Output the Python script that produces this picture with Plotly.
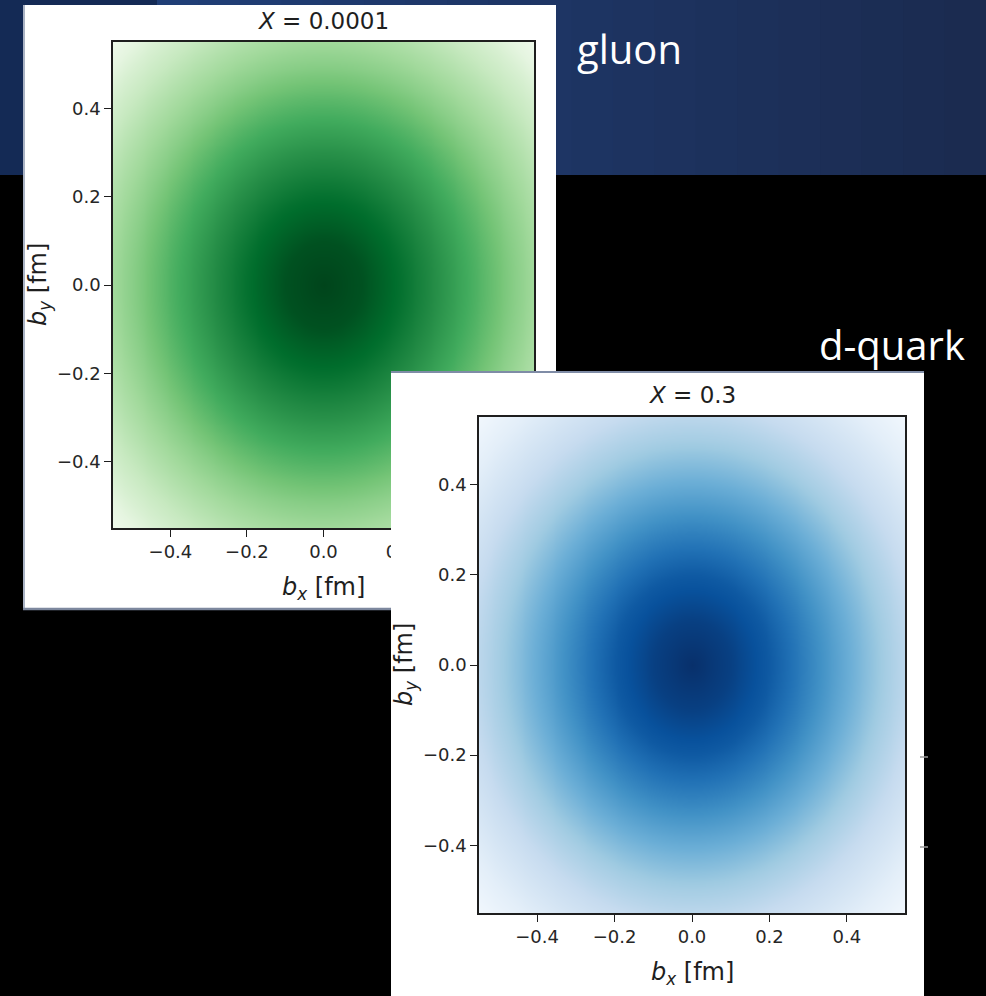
import numpy as np
import plotly.graph_objects as go

W, H = 986, 996

# ---- data -----------------------------------------------------------------
# normalised colour level of each map versus transverse distance |b| (fm)
radius_fm = [0.0, 0.1, 0.2, 0.3, 0.4, 0.5, 0.6, 0.7, 0.78]
gluon_level = [1.0, 0.96, 0.86, 0.73, 0.59, 0.44, 0.31, 0.18, 0.06]
dquark_level = [1.0, 0.94, 0.84, 0.68, 0.51, 0.35, 0.22, 0.10, 0.03]

b_fm = np.linspace(-0.55, 0.55, 111)          # sampling grid of the maps
tick_vals = [-0.4, -0.2, 0.0, 0.2, 0.4]
tick_text = ["\u22120.4", "\u22120.2", "0.0", "0.2", "0.4"]
panel_titles = ["<i>X</i> = 0.0001", "<i>X</i> = 0.3"]
panel_names = ["gluon", "d-quark"]
x_label = "<i>b</i><sub><i>x</i></sub> [fm]"
y_label = "<i>b</i><sub><i>y</i></sub> [fm]"

greens = [[0.0, "#f7fcf5"], [0.125, "#e5f5e0"], [0.25, "#c7e9c0"], [0.375, "#a1d99b"],
          [0.5, "#74c476"], [0.625, "#41ab5d"], [0.75, "#238b45"], [0.875, "#006d2c"],
          [1.0, "#00441b"]]
blues = [[0.0, "#f7fbff"], [0.125, "#deebf7"], [0.25, "#c6dbef"], [0.375, "#9ecae1"],
         [0.5, "#6baed6"], [0.625, "#4292c6"], [0.75, "#2171b5"], [0.875, "#08519c"],
         [1.0, "#08306b"]]

BX, BY = np.meshgrid(b_fm, b_fm)
R = np.sqrt(BX ** 2 + BY ** 2)
z_gluon = np.interp(R, radius_fm, gluon_level)
z_dquark = np.interp(R, radius_fm, dquark_level)


def fx(px):
    return px / W


def fy(py):
    return 1 - py / H


fig = go.Figure()

# green map (subplot 1)
fig.add_trace(go.Heatmap(x=b_fm, y=b_fm, z=z_gluon, colorscale=greens, zmin=0, zmax=1,
                         zsmooth="best", showscale=False, hoverinfo="skip",
                         xaxis="x", yaxis="y"))
# white card of the second picture, covering the first one (subplot 2)
fig.add_trace(go.Scatter(x=[0, 1, 1, 0, 0], y=[0, 0, 1, 1, 0], fill="toself",
                         fillcolor="white", mode="lines", line=dict(width=0, color="white"),
                         hoverinfo="skip", showlegend=False, xaxis="x2", yaxis="y2"))
fig.add_trace(go.Scatter(x=[0, 1], y=[1, 1], mode="lines",
                         line=dict(width=4, color="#7f8ca6"),
                         hoverinfo="skip", showlegend=False, xaxis="x2", yaxis="y2"))
# blue map (subplot 3)
fig.add_trace(go.Heatmap(x=b_fm, y=b_fm, z=z_dquark, colorscale=blues, zmin=0, zmax=1,
                         zsmooth="best", showscale=False, hoverinfo="skip",
                         xaxis="x3", yaxis="y3"))

tickfont = dict(family="DejaVu Sans", size=18, color="#262626")
ax_common = dict(range=[-0.55, 0.55], showline=True, mirror=True, linecolor="#1e1e1e",
                 linewidth=1.5, ticks="outside", ticklen=7, tickwidth=1.3,
                 tickcolor="#1e1e1e", tickvals=tick_vals, ticktext=tick_text,
                 tickfont=tickfont, showgrid=False, zeroline=False, fixedrange=True)
hidden = dict(range=[0, 1], visible=False, fixedrange=True, showgrid=False, zeroline=False)

fig.update_layout(
    width=W, height=H, margin=dict(l=0, r=0, t=0, b=0),
    paper_bgcolor="black", plot_bgcolor="rgba(0,0,0,0)", showlegend=False,
    xaxis=dict(domain=[fx(113), fx(534)], anchor="y", **ax_common),
    yaxis=dict(domain=[fy(528), fy(42)], anchor="x", **ax_common),
    xaxis2=dict(domain=[fx(391), fx(924)], anchor="y2", **hidden),
    yaxis2=dict(domain=[0, fy(371)], anchor="x2", **hidden),
    xaxis3=dict(domain=[fx(479), fx(905)], anchor="y3", **ax_common),
    yaxis3=dict(domain=[fy(913), fy(417)], anchor="x3", **ax_common),
)

shapes = []
# slide header band: dark block on the left, gradient band to the right
shapes.append(dict(type="rect", xref="paper", yref="paper", x0=0, x1=fx(157),
                   y0=fy(175), y1=1, fillcolor="#142a55", line=dict(width=0), layer="below"))
c0 = np.array([0x21, 0x3f, 0x78])
c1 = np.array([0x1b, 0x2b, 0x4f])
n = 20
edges = np.linspace(157, W, n + 1)
for i in range(n):
    c = (c0 + (c1 - c0) * (i + 0.5) / n).astype(int)
    shapes.append(dict(type="rect", xref="paper", yref="paper", x0=fx(edges[i]),
                       x1=fx(edges[i + 1] + 1), y0=fy(175), y1=1,
                       fillcolor="rgb(%d,%d,%d)" % tuple(c), line=dict(width=0),
                       layer="below"))
# white card of the first picture
shapes.append(dict(type="rect", xref="paper", yref="paper", x0=fx(23), x1=fx(556),
                   y0=fy(610), y1=fy(5), fillcolor="white", line=dict(width=0),
                   layer="below"))
shapes.append(dict(type="line", xref="paper", yref="paper", x0=fx(24), x1=fx(24),
                   y0=fy(610), y1=fy(5), line=dict(color="#aab3c4", width=2), layer="below"))
shapes.append(dict(type="line", xref="paper", yref="paper", x0=fx(23), x1=fx(556),
                   y0=fy(609), y1=fy(609), line=dict(color="#7d889e", width=2.5),
                   layer="below"))
# small marks at the right edge of the second picture
for yy in (757, 847):
    shapes.append(dict(type="line", xref="paper", yref="paper", x0=fx(920), x1=fx(928),
                       y0=fy(yy), y1=fy(yy), line=dict(color="#9a9a9a", width=1.5),
                       layer="above"))
fig.update_layout(shapes=shapes)

ann = []
title_font = dict(family="DejaVu Sans", size=23, color="#1e1e1e")
label_font = dict(family="DejaVu Sans", size=24, color="#1e1e1e")
# panel titles
ann.append(dict(x=fx(323.5), y=fy(21), text=panel_titles[0], font=title_font))
ann.append(dict(x=fx(692), y=fy(395), text=panel_titles[1], font=title_font))
# axis labels
ann.append(dict(x=fx(323.5), y=fy(588), text=x_label, font=label_font))
ann.append(dict(x=fx(39), y=fy(285), text=y_label, font=label_font, textangle=-90))
ann.append(dict(x=fx(692), y=fy(973), text=x_label, font=label_font))
ann.append(dict(x=fx(405), y=fy(665), text=y_label, font=label_font, textangle=-90))
# slide captions
slide_font = dict(family="Open Sans", size=40, color="white")
ann.append(dict(x=fx(629), y=fy(48), text=panel_names[0], font=slide_font))
ann.append(dict(x=fx(892), y=fy(344), text=panel_names[1], font=slide_font))
for a in ann:
    a.update(xref="paper", yref="paper", showarrow=False, xanchor="center",
             yanchor="middle")
fig.update_layout(annotations=ann)

fig.write_html("out.html", config={"displayModeBar": False},
               post_script="document.body.style.margin='0';document.body.style.background='black';")
